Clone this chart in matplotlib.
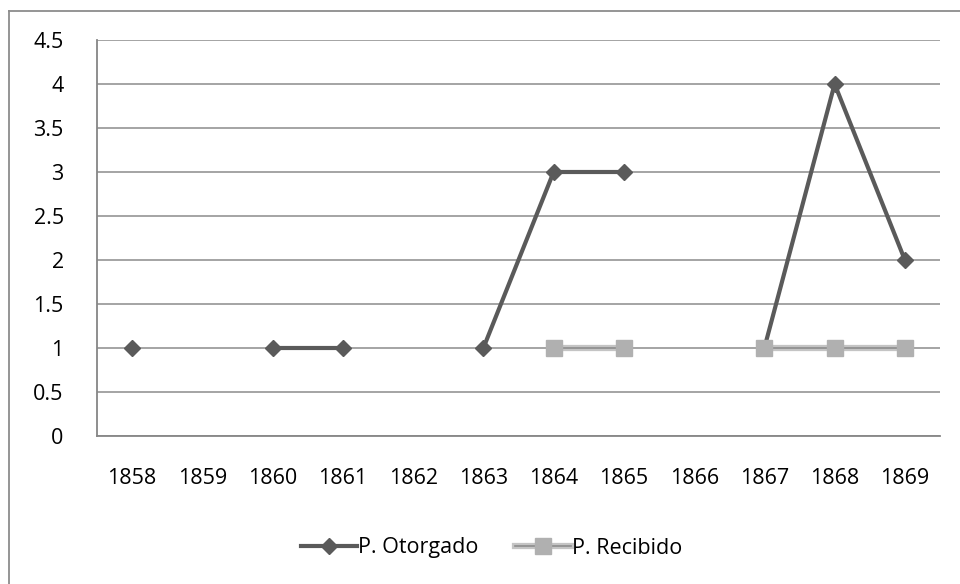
import numpy as np
import matplotlib.pyplot as plt
from matplotlib.lines import Line2D

years = ['1858', '1859', '1860', '1861', '1862', '1863',
         '1864', '1865', '1866', '1867', '1868', '1869']
otorgado = [1, np.nan, 1, 1, np.nan, 1, 3, 3, np.nan, 1, 4, 2]
recibido = [np.nan, np.nan, np.nan, np.nan, np.nan, np.nan,
            1, 1, np.nan, 1, 1, 1]

plt.rcParams['font.family'] = ['Open Sans', 'DejaVu Sans']

fig = plt.figure(figsize=(9.6, 5.84), dpi=100)
ax = fig.add_axes([97 / 960, 1 - 436 / 584, 843 / 960, 396 / 584])

x = np.arange(len(years))

ax.plot(x, otorgado, color='#5a5a5a', lw=3, marker='D', ms=8,
        markerfacecolor='#5a5a5a', markeredgecolor='#5a5a5a', zorder=3)
# double-line look for the second series
ax.plot(x, recibido, color='#c4c4c4', lw=4.5, zorder=4, solid_capstyle='butt')
ax.plot(x, recibido, color='#8c8c8c', lw=1.2, zorder=5, marker='s', ms=12,
        markerfacecolor='#b0b0b0', markeredgecolor='#b0b0b0')

ax.set_xlim(-0.5, len(years) - 0.5)
ax.set_ylim(0, 4.5)
ax.set_yticks(np.arange(0, 4.51, 0.5))
ax.set_yticklabels(['0', '0.5', '1', '1.5', '2', '2.5', '3', '3.5', '4', '4.5'])
ax.set_xticks(x)
ax.set_xticklabels(years)
ax.tick_params(axis='both', length=0, labelsize=15.5, colors='black')
ax.tick_params(axis='x', pad=23)
ax.tick_params(axis='y', pad=24)
ax.yaxis.grid(True, color='#8c8c8c', lw=1.1)
ax.set_axisbelow(True)
for side in ['top', 'right']:
    ax.spines[side].set_visible(False)
for side in ['left', 'bottom']:
    ax.spines[side].set_color('#868686')
    ax.spines[side].set_linewidth(1.3)

# outer chart border (right and bottom edges fall outside the image)
fig.add_artist(Line2D([9 / 960, 9 / 960], [0, 1 - 11 / 584], color='#8c8c8c', lw=1.3))
fig.add_artist(Line2D([9 / 960, 1], [1 - 11 / 584, 1 - 11 / 584], color='#8c8c8c', lw=1.3))

h1 = Line2D([], [], color='#5a5a5a', lw=3, marker='D', ms=8)
h2a = Line2D([], [], color='#c4c4c4', lw=4.5)
h2b = Line2D([], [], color='#8c8c8c', lw=1.2, marker='s', ms=12,
             markerfacecolor='#b0b0b0', markeredgecolor='#b0b0b0')
fig.legend([h1, (h2a, h2b)], ['P. Otorgado', 'P. Recibido'],
           loc='center', bbox_to_anchor=(0.512, 1 - 548 / 584), ncol=2,
           frameon=False, fontsize=15.5, handlelength=2.6, handletextpad=0.05,
           columnspacing=1.7)

fig.savefig('out.png', dpi=100)
